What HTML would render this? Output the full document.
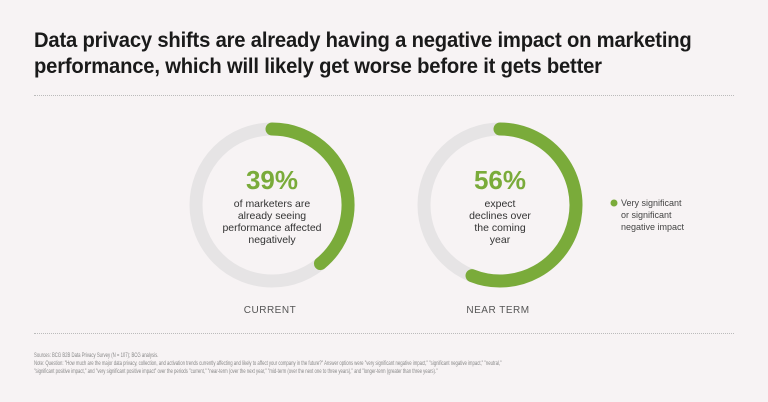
<!DOCTYPE html>
<html><head><meta charset="utf-8"><style>
body{margin:0;background:#f7f3f4;}
#root{position:relative;width:768px;height:402px;overflow:hidden;font-family:"Liberation Sans Narrow","Liberation Sans",sans-serif;}
.title{position:absolute;left:34px;top:27px;font-size:21.5px;font-weight:bold;line-height:26px;color:#1a1a1a;letter-spacing:-0.2px;white-space:nowrap;transform:scaleX(0.94);transform-origin:0 0;}
.rule{position:absolute;left:34px;width:700px;border-top:1px dotted #bbb;}
.foot{position:absolute;left:34px;top:352px;font-size:6.3px;line-height:8px;color:#888;white-space:nowrap;transform:scaleX(0.675);transform-origin:0 0;}
</style></head><body>
<div id="root">
<div class="title">Data privacy shifts are already having a negative impact on marketing<br>performance, which will likely get worse before it gets better</div>
<div class="rule" style="top:95px"></div>
<div class="rule" style="top:333px"></div>
<svg id="chart" width="768" height="402" style="position:absolute;left:0;top:0"></svg>
<div class="foot">Sources: BCG B2B Data Privacy Survey (N = 107); BCG analysis.<br>Note: Question: "How much are the major data privacy, collection, and activation trends currently affecting and likely to affect your company in the future?" Answer options were "very significant negative impact," "significant negative impact," "neutral,"<br>"significant positive impact," and "very significant positive impact" over the periods "current," "near-term (over the next year," "mid-term (over the next one to three years)," and "longer-term (greater than three years)."</div>
</div>
<script>
const categories=["CURRENT","NEAR TERM"];
const values=[39,56];
const captions=[["of marketers are","already seeing","performance affected","negatively"],["expect","declines over","the coming","year"]];
const centersX=[272,500], cy=205, r=76, sw=13;
const NS="http://www.w3.org/2000/svg";
const svg=document.getElementById('chart');
function mk(t,a){const e=document.createElementNS(NS,t);for(const k in a)e.setAttribute(k,a[k]);svg.appendChild(e);return e;}
function angle(v){return v/100*2*Math.PI;}
values.forEach((v,i)=>{
  const cx=centersX[i];
  const bg=mk('circle',{cx:cx,cy:cy,r:r,fill:'none',stroke:'#e6e4e5','stroke-width':sw});
  
  
  const a=angle(v);
  const x1=cx,y1=cy-r,x2=cx+r*Math.sin(a),y2=cy-r*Math.cos(a);
  const arc=mk('path',{d:`M${x1} ${y1} A${r} ${r} 0 ${a>Math.PI?1:0} 1 ${x2} ${y2}`,fill:'none',stroke:'#7aab3a','stroke-width':sw,'stroke-linecap':'round'});
  
  
  const pct=mk('text',{x:cx,y:cy-16,'text-anchor':'middle','font-size':26,'font-weight':'bold',fill:'#7aab3a','font-family':'"Liberation Sans",sans-serif'});
  pct.textContent=v+'%';
  
  
  captions[i].forEach((l,j)=>{
    const t=mk('text',{x:cx,y:cy+2+j*12,'text-anchor':'middle','font-size':10.5,fill:'#333','font-family':'"Liberation Sans",sans-serif','textLength':0});
    t.removeAttribute('textLength');
    t.textContent=l;
    
    
  });
  const c=mk('text',{x:cx-2,y:313,'text-anchor':'middle','font-size':10,fill:'#555','letter-spacing':'0.5','font-family':'"Liberation Sans",sans-serif'});
  c.textContent=categories[i];
  
  
});
const dot=mk('circle',{cx:614,cy:203,r:3.5,fill:'#7aab3a'});


["Very significant","or significant","negative impact"].forEach((l,j)=>{
  const t=mk('text',{x:621,y:206+j*12,'font-size':9,fill:'#444','font-family':'"Liberation Sans",sans-serif'});
  t.textContent=l;
  
  
});
</script>
</body></html>
